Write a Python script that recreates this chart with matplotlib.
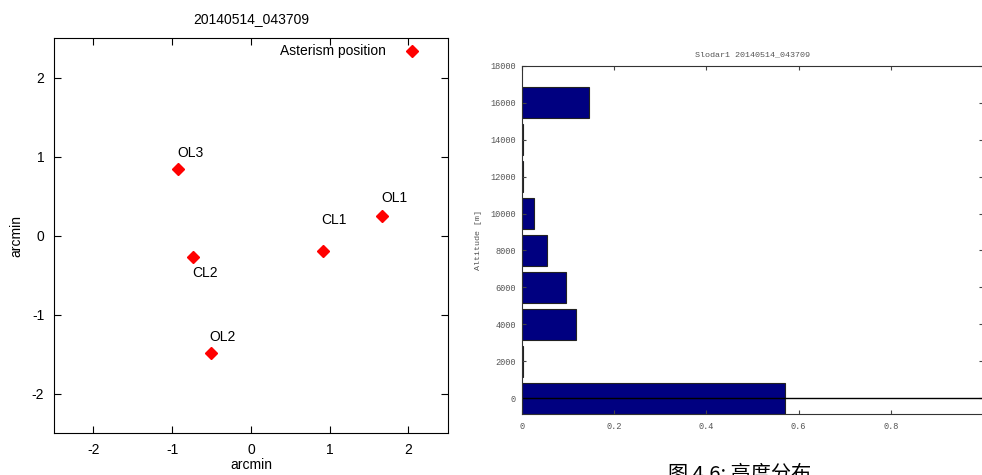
import numpy as np
import matplotlib.pyplot as plt

# Asterism layout (arcmin)
star_names = ["Asterism position", "OL3", "CL2", "OL2", "CL1", "OL1"]
star_x = [2.05, -0.92, -0.73, -0.51, 0.91, 1.67]
star_y = [2.33, 0.84, -0.27, -1.49, -0.20, 0.25]

# SLODAR turbulence profile
altitudes = [0, 2000, 4000, 6000, 8000, 10000, 12000, 14000, 16000]
fractions = [0.570, 0.002, 0.118, 0.095, 0.055, 0.027, 0.002, 0.002, 0.146]

title_left = "20140514_043709"
title_right = "Slodar1 20140514_043709"
caption = "图 4.6: 高度分布"

plt.rcParams['font.family'] = ['Liberation Sans', 'DejaVu Sans']
plt.rcParams['axes.unicode_minus'] = False

fig = plt.figure(figsize=(9.82, 4.75), dpi=100)

# left panel: star positions
ax1 = fig.add_axes([0.055, 0.0884, 0.401, 0.8316])
ax1.plot(star_x, star_y, linestyle="none", marker="D", color="red", markersize=6.5)

# label offsets in points (label placement only)
offsets = {
    "Asterism position": (-19, 0, "right", "center"),
    "OL3": (8.5, 11.5, "center", "center"),
    "CL2": (8.5, -11.5, "center", "center"),
    "OL2": (8.5, 11.5, "center", "center"),
    "CL1": (8.5, 22.5, "center", "center"),
    "OL1": (8.5, 12.5, "center", "center"),
}
for name, x, y in zip(star_names, star_x, star_y):
    dx, dy, ha, va = offsets[name]
    ax1.annotate(name, (x, y), xytext=(dx, dy), textcoords="offset points",
                 ha=ha, va=va, fontsize=10)

ax1.set_xlim(-2.5, 2.5)
ax1.set_ylim(-2.5, 2.5)
ax1.set_xticks([-2, -1, 0, 1, 2])
ax1.set_yticks([-2, -1, 0, 1, 2])
ax1.tick_params(direction="in", length=5, top=True, right=True, labelsize=10, pad=7)
ax1.set_xlabel("arcmin", fontsize=10, labelpad=1)
ax1.set_ylabel("arcmin", fontsize=10, labelpad=6)
ax1.set_title(title_left, fontsize=10, pad=11)

# right panel: altitude profile
mono = "Liberation Mono"
gray = "#555555"
ax2 = fig.add_axes([0.5316, 0.1284, 0.4694, 0.7333])
ax2.barh(altitudes, fractions, height=1650, color="#000080", edgecolor="#222222", linewidth=0.8)
ax2.axhline(0, color="black", linewidth=1)
ax2.set_xlim(0, 1)
ax2.set_ylim(-850, 18000)
ax2.set_xticks([0, 0.2, 0.4, 0.6, 0.8])
ax2.set_xticklabels(["0", "0.2", "0.4", "0.6", "0.8"])
ax2.set_yticks(np.arange(0, 18001, 2000))
ax2.tick_params(direction="in", length=3, top=True, right=True, labelsize=6.2,
                labelcolor=gray, width=0.8, color="#444444")
ax2.tick_params(axis="y", pad=4.5)
ax2.tick_params(axis="x", pad=6)
for lbl in ax2.get_xticklabels() + ax2.get_yticklabels():
    lbl.set_fontfamily(mono)
ax2.set_ylabel("Altitude [m]", fontsize=6, color=gray, family=mono, labelpad=6)
ax2.set_title(title_right, fontsize=6, color=gray, family=mono, pad=7)
for sp in ax2.spines.values():
    sp.set_color("#333333")

fig.text(0.753, 0.0, caption, ha="center", va="center", fontsize=14.5,
         family=["Noto Sans CJK SC", "DejaVu Sans"])

fig.savefig("out.png", dpi=100)
